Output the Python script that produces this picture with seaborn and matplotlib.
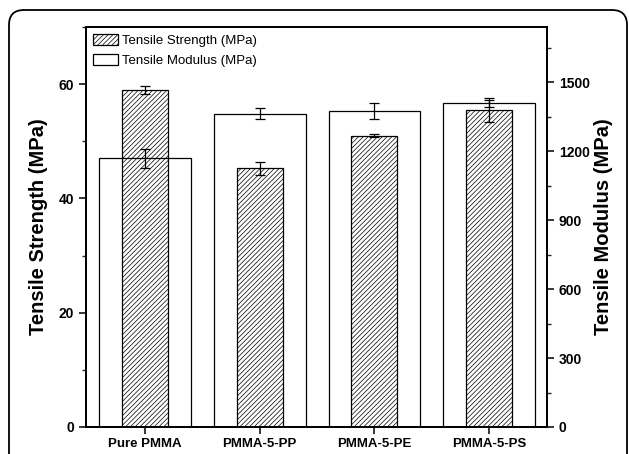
import matplotlib
matplotlib.use("Agg")
import matplotlib.pyplot as plt
import seaborn as sns
import numpy as np
from matplotlib.patches import Patch, FancyBboxPatch
from matplotlib.ticker import MultipleLocator

sns.set_theme(style="ticks")
plt.rcParams['font.family'] = ['Liberation Sans', 'DejaVu Sans']
plt.rcParams['text.color'] = 'black'
plt.rcParams['axes.labelcolor'] = 'black'
plt.rcParams['hatch.linewidth'] = 0.5
plt.rcParams['hatch.color'] = '#333333'

samples = ["Pure PMMA", "PMMA-5-PP", "PMMA-5-PE", "PMMA-5-PS"]
strength = [59.0, 45.3, 51.0, 55.5]
strength_err = [0.65, 1.15, 0.2, 2.1]
modulus = [1169, 1363, 1374, 1408]
modulus_err = [41, 25, 36, 16]

fig = plt.figure(figsize=(6.29, 4.54), dpi=100)
ax1 = fig.add_axes([86 / 629, 27 / 454, 461 / 629, 400 / 454])
ax2 = ax1.twinx()

# strength: narrow hatched bars on the left axis
sns.barplot(x=samples, y=strength, ax=ax1, width=0.4, color="white",
            edgecolor="black", linewidth=0.9, errorbar=None, saturation=1)
for p in ax1.patches:
    p.set_hatch("///////")
ax1.errorbar(np.arange(len(samples)), strength, yerr=strength_err, fmt="none",
             ecolor="black", elinewidth=0.9, capsize=3.5, capthick=0.9, zorder=5)

# modulus: wide open bars on the right axis
sns.barplot(x=samples, y=modulus, ax=ax2, width=0.8, color="white",
            edgecolor="black", linewidth=0.9, errorbar=None, saturation=1)
for p in ax2.patches:
    p.set_facecolor("none")
ax2.errorbar(np.arange(len(samples)), modulus, yerr=modulus_err, fmt="none",
             ecolor="black", elinewidth=0.9, capsize=3.5, capthick=0.9, zorder=5)

ax1.set_xlim(-0.515, 3.505)
ax1.set_ylim(0, 70)
ax2.set_ylim(0, 1740)
ax1.yaxis.set_major_locator(MultipleLocator(20))
ax1.yaxis.set_minor_locator(MultipleLocator(10))
ax2.yaxis.set_major_locator(MultipleLocator(300))
ax2.yaxis.set_minor_locator(MultipleLocator(150))

for ax in (ax1, ax2):
    for s in ax.spines.values():
        s.set_linewidth(1.3)
        s.set_color("black")
    ax.tick_params(axis="both", which="major", length=5, width=1.1, direction="out",
                   labelsize=10, colors="black")
    ax.tick_params(axis="y", which="minor", length=3, width=1.0, direction="out")
    for lab in ax.get_xticklabels() + ax.get_yticklabels():
        lab.set_fontweight("bold")

ax1.tick_params(axis="x", pad=3, labelsize=9.5)
ax1.set_xlabel("")
ax1.set_ylabel("Tensile Strength (MPa)", fontsize=14.5, fontweight="bold", labelpad=8)
ax2.set_ylabel("Tensile Modulus (MPa)", fontsize=14.5, fontweight="bold", labelpad=3)

handles = [Patch(facecolor="white", edgecolor="black", hatch="///////", linewidth=0.9),
           Patch(facecolor="white", edgecolor="black", linewidth=0.9)]
ax2.legend(handles, ["Tensile Strength (MPa)", "Tensile Modulus (MPa)"], loc="upper left",
           frameon=False, fontsize=9.5, handlelength=1.9, handleheight=0.9,
           borderaxespad=0.15, handletextpad=0.3, labelspacing=0.5)

# rounded frame around the figure
frame = FancyBboxPatch((0.09, -0.3), 6.18, 4.74, boxstyle="round,pad=0,rounding_size=0.15",
                       transform=fig.dpi_scale_trans, facecolor="none", edgecolor="black",
                       linewidth=1.3, clip_on=False)
fig.patches.append(frame)

fig.savefig("out.png", dpi=100)
